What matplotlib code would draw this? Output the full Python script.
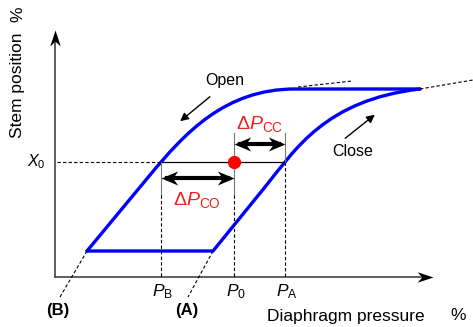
import matplotlib.pyplot as plt
from matplotlib.path import Path
from matplotlib.patches import PathPatch

plt.rcParams['font.family'] = ['Liberation Sans', 'DejaVu Sans']
plt.rcParams['mathtext.fontset'] = 'custom'
plt.rcParams['mathtext.rm'] = 'Liberation Sans'
plt.rcParams['mathtext.it'] = 'Liberation Sans:italic'

# operating points on the pressure / stem position plane
x0 = 115
p_b = 106
p_0 = 179
p_a = 230

# open branch: straight rise, then a cubic bend into the top plateau
open_pts = [(32, 26), (95, 102), (130, 144), (170, 188), (240, 188), (365, 188)]
open_codes = [Path.MOVETO, Path.LINETO, Path.CURVE4, Path.CURVE4, Path.CURVE4, Path.LINETO]

# close branch: from the bottom plateau up to the top corner
close_pts = [(32, 26), (158, 26), (210, 90), (240, 127), (270, 177), (365, 188)]
close_codes = [Path.MOVETO, Path.LINETO, Path.LINETO, Path.CURVE4, Path.CURVE4, Path.CURVE4]

# dashed extrapolations of the straight parts
ext_b = [(32, 26), (5, -20)]
ext_a = [(158, 26), (133, -20)]
ext_top1 = [(243, 190), (297, 196)]
ext_top2 = [(365, 188), (418, 197)]

# dead band arrows at these heights
y_cc = 133
y_co = 99


def head(direction, hw):
    # barbed arrow head with its tip on the marker position
    pts = [(0, 0), (-1, hw), (-0.7, 0), (-1, -hw), (0, 0)]
    if direction == 'left':
        pts = [(-x, y) for x, y in pts]
    elif direction == 'up':
        pts = [(-y, x) for x, y in pts]
    return Path(pts, [Path.MOVETO, Path.LINETO, Path.LINETO, Path.LINETO, Path.CLOSEPOLY])


fig = plt.figure(figsize=(4.73, 3.27), dpi=100)
ax = fig.add_axes([0, 0, 1, 1])
ax.set_xlim(-55, 418)
ax.set_ylim(-50, 277)
ax.axis('off')

# axes with arrow heads
ax.plot([0, 0], [0, 240], color='#444444', lw=1.2)
ax.plot([0, 372], [0, 0], color='#444444', lw=1.2)
ax.plot(0, 247, marker=head('up', 0.33), ms=23, color='black', mew=0)
ax.plot(378, 0, marker=head('right', 0.33), ms=23, color='black', mew=0)

# hysteresis loop
ax.add_patch(PathPatch(Path(open_pts, open_codes), fill=False, color='#0000ff', lw=2.4, capstyle='round', joinstyle='miter'))
ax.add_patch(PathPatch(Path(close_pts, close_codes), fill=False, color='#0000ff', lw=2.4, capstyle='round', joinstyle='miter'))

for seg in [ext_b, ext_a, ext_top1, ext_top2]:
    ax.plot([seg[0][0], seg[1][0]], [seg[0][1], seg[1][1]], color='black', lw=0.8, ls=(0, (3, 2)))

# reference lines
ax.plot([2, p_b], [x0, x0], color='black', lw=0.8, ls=(0, (3, 2)))
ax.plot([p_b, p_a], [x0, x0], color='black', lw=0.9)
ax.plot([p_b, p_b], [x0, 82], color='#777777', lw=0.8)
ax.plot([p_b, p_b], [82, 0], color='black', lw=0.8, ls=(0, (3, 2)))
ax.plot([p_0, p_0], [144, 82], color='#777777', lw=0.8)
ax.plot([p_0, p_0], [82, 0], color='black', lw=0.8, ls=(0, (3, 2)))
ax.plot([p_a, p_a], [144, x0], color='#777777', lw=0.8)
ax.plot([p_a, p_a], [x0, 0], color='black', lw=0.8, ls=(0, (3, 2)))

ax.plot(p_0, x0, 'o', color='#ff0000', ms=8.5, zorder=5)

# dead band arrows
ax.plot([p_0 + 6, p_a - 6], [y_cc, y_cc], color='black', lw=3)
ax.plot(p_0, y_cc, marker=head('left', 0.42), ms=24, color='black', mew=0)
ax.plot(p_a, y_cc, marker=head('right', 0.42), ms=24, color='black', mew=0)
ax.plot([p_b + 6, p_0 - 6], [y_co, y_co], color='black', lw=3)
ax.plot(p_b, y_co, marker=head('left', 0.42), ms=24, color='black', mew=0)
ax.plot(p_0, y_co, marker=head('right', 0.42), ms=24, color='black', mew=0)
ax.text(205, 153, r'$\Delta P_{\mathrm{CC}}$', color='#e8241c', fontsize=14, ha='center', va='center')
ax.text(142, 77, r'$\Delta P_{\mathrm{CO}}$', color='#e8241c', fontsize=14, ha='center', va='center')

# direction labels
ax.text(170, 197, 'Open', fontsize=11.5, ha='center', va='center')
ax.annotate('', xy=(123, 154), xytext=(157, 182),
            arrowprops=dict(arrowstyle='-|>', color='black', lw=1, mutation_scale=12))
ax.text(298, 126, 'Close', fontsize=11.5, ha='center', va='center')
ax.annotate('', xy=(322, 164), xytext=(288, 137),
            arrowprops=dict(arrowstyle='-|>', color='black', lw=1, mutation_scale=12))

# tick style labels
ax.text(-9, x0, r'$X_{\mathrm{0}}$', fontsize=11.5, ha='right', va='center')
ax.text(p_b + 2, -15, r'$P_{\mathrm{B}}$', fontsize=12.5, ha='center', va='center')
ax.text(p_0 + 2, -15, r'$P_{\mathrm{0}}$', fontsize=12.5, ha='center', va='center')
ax.text(p_a + 2, -15, r'$P_{\mathrm{A}}$', fontsize=12.5, ha='center', va='center')
ax.text(3, -34, '(B)', fontsize=12, fontweight='bold', ha='center', va='center')
ax.text(132, -34, '(A)', fontsize=12, fontweight='bold', ha='center', va='center')

ax.text(212, -39, 'Diaphragm pressure', fontsize=12.5, ha='left', va='center')
ax.text(395, -39, '%', fontsize=12.5, ha='left', va='center')
ax.text(-37, 192, 'Stem position', fontsize=12.5, rotation=90, ha='center', va='center')
ax.text(-37, 263, '%', fontsize=12.5, rotation=90, ha='center', va='center')

plt.savefig('out.png', dpi=100)
